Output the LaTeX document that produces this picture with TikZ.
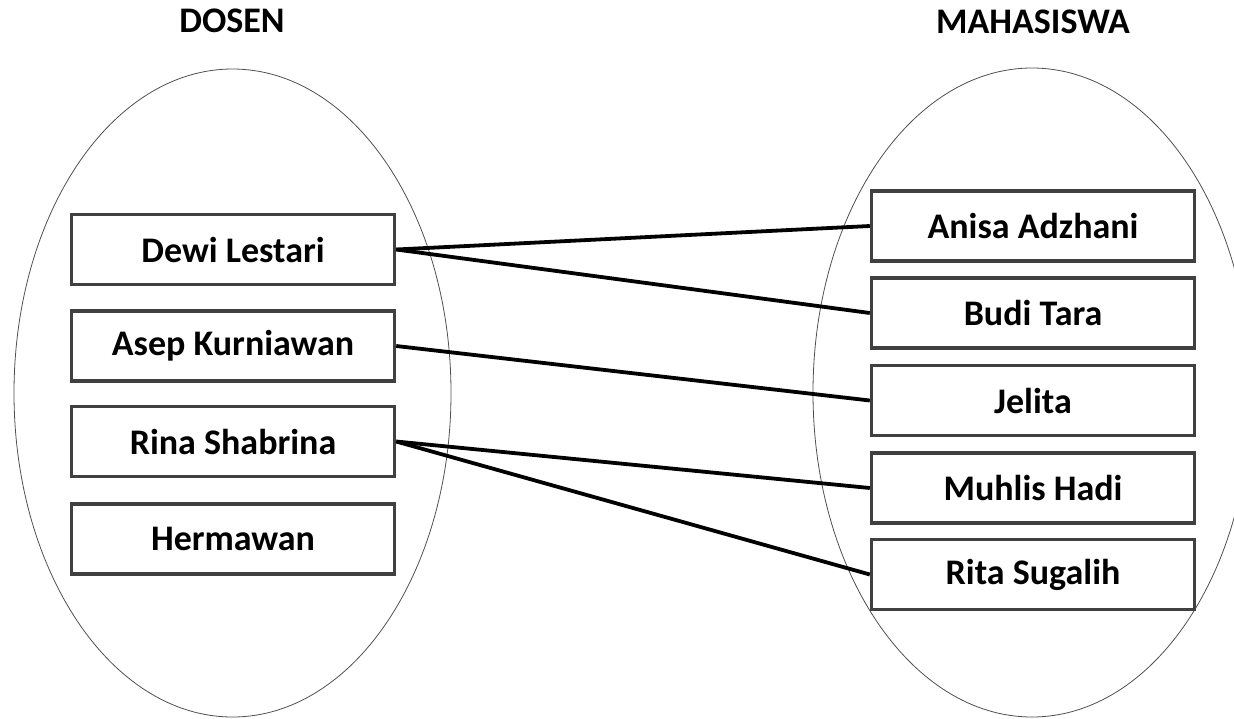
\documentclass[tikz,border=0pt]{standalone}
\usepackage{fontspec}
\setmainfont{Carlito}
\usetikzlibrary{positioning}
\definecolor{boxline}{HTML}{404040}
\definecolor{setline}{HTML}{505050}
\begin{document}
\begin{tikzpicture}[x=1pt,y=-1pt,
  namebox/.style={draw=boxline, line width=3.4pt, fill=white,
    minimum width=323pt, minimum height=70pt, inner sep=0pt,
    font=\fontsize{36}{42}\selectfont\bfseries},
  settitle/.style={font=\fontsize{36}{42}\selectfont\bfseries, inner sep=0pt},
  setoval/.style={draw=setline, line width=0.8pt},
  link/.style={draw=black, line width=3.8pt}]
  \useasboundingbox (0,0) rectangle (1234,718);
  \clip (0,0) rectangle (1234,718);

  % the two sets
  \draw[setoval] (232.5,393) ellipse [x radius=218.5, y radius=324];
  \draw[setoval] (1032,392.5) ellipse [x radius=219, y radius=324.5];

  % set titles
  \node[settitle] (tdosen) at (232,21) {DOSEN};
  \node[settitle] (tmhs) at (1033,22) {MAHASISWA};

  % lecturers
  \node[namebox] (dewi) at (233,249.5) {Dewi Lestari};
  \node[namebox] (asep) at (233,346) {Asep Kurniawan};
  \node[namebox] (rina) at (233,441.5) {Rina Shabrina};
  \node[namebox] (herm) at (233,539) {Hermawan};

  % students
  \node[namebox] (anisa) at (1033,226) {Anisa Adzhani};
  \node[namebox] (budi) at (1033,313) {Budi Tara};
  \node[namebox] (jelita) at (1033,400.5) {Jelita};
  \node[namebox] (muhlis) at (1033,488) {Muhlis Hadi};
  \node[namebox] (rita) at (1033,574.5) {Rita Sugalih};

  % supervision links
  \draw[link] (dewi.east) -- (anisa.west);
  \draw[link] (dewi.east) -- (budi.west);
  \draw[link] (asep.east) -- (jelita.west);
  \draw[link] (rina.east) -- (muhlis.west);
  \draw[link] (rina.east) -- (rita.west);
\end{tikzpicture}
\end{document}
